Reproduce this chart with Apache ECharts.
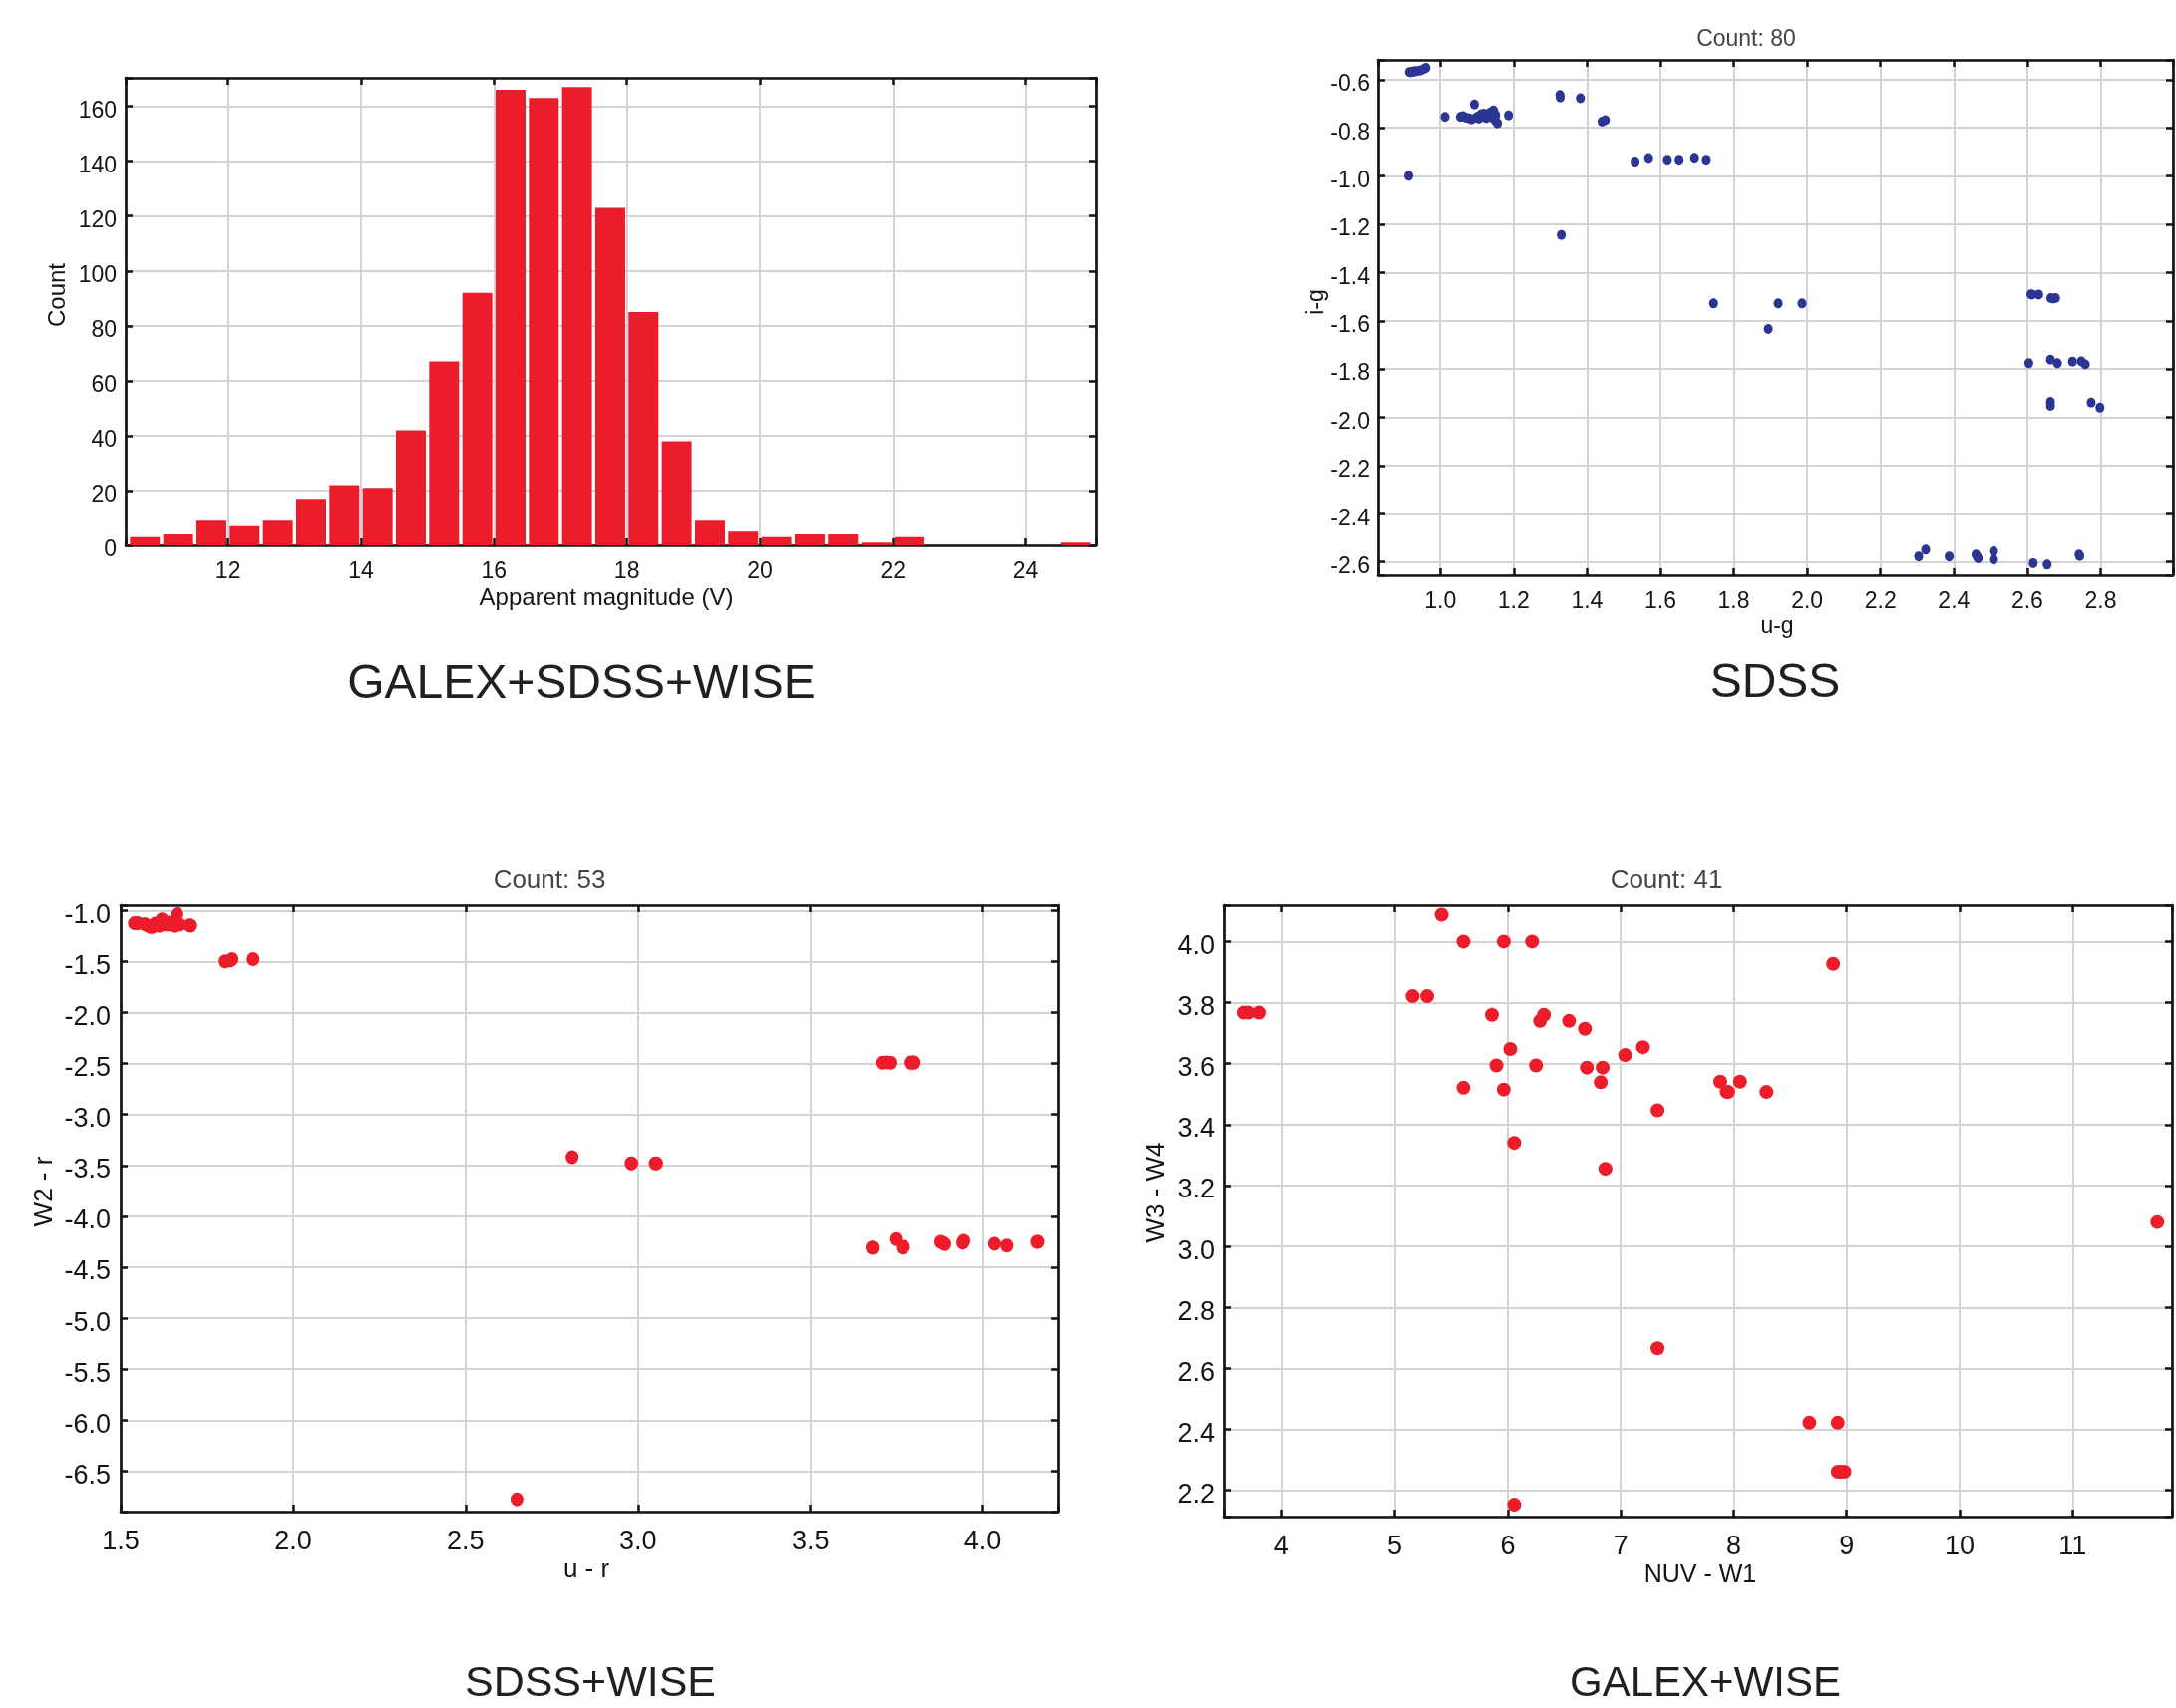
<!DOCTYPE html>
<html>
<head>
<meta charset="utf-8">
<title>Colour diagrams</title>
<script src="https://cdn.jsdelivr.net/npm/echarts@6/dist/echarts.min.js"></script>
<style>
html, body { margin: 0; padding: 0; background: #fff; }
#chart { width: 2182px; height: 1713px; }
</style>
</head>
<body>
<div id="chart"></div>
<script>
// --- histogram, apparent magnitude (V), 0.5 mag bins ---
var magBins = [10.75, 11.25, 11.75, 12.25, 12.75, 13.25, 13.75, 14.25, 14.75, 15.25,
               15.75, 16.25, 16.75, 17.25, 17.75, 18.25, 18.75, 19.25, 19.75, 20.25,
               20.75, 21.25, 21.75, 22.25, 22.75, 23.25, 23.75, 24.25, 24.75];
var magCounts = [3, 4, 9, 7, 9, 17, 22, 21, 42, 67,
                 92, 166, 163, 167, 123, 85, 38, 9, 5, 3,
                 4, 4, 1, 3, 0, 0, 0, 0, 1];

// --- SDSS: u-g vs i-g ---
var sdssUG = [0.916, 0.925, 0.935, 0.945, 0.955, 0.961, 0.920, 0.930,
              0.914,
              1.013, 1.055, 1.062, 1.070, 1.079, 1.085, 1.093, 1.098, 1.102, 1.105, 1.111, 1.115, 1.118,
              1.120, 1.125, 1.129, 1.132, 1.135, 1.138, 1.140, 1.143, 1.145, 1.147, 1.150, 1.151, 1.156, 1.186,
              1.326, 1.327, 1.382, 1.441, 1.450,
              1.531, 1.568, 1.619, 1.651, 1.693, 1.725,
              1.330,
              1.745, 1.921, 1.986, 1.894,
              2.613, 2.631, 2.664, 2.677, 2.670, 2.610,
              2.604, 2.663, 2.682, 2.723, 2.747, 2.758,
              2.663, 2.663, 2.774, 2.798,
              2.304, 2.323, 2.387, 2.460, 2.466, 2.463, 2.508, 2.508, 2.616, 2.654, 2.741, 2.743];
var sdssIG = [-0.569, -0.567, -0.565, -0.562, -0.556, -0.551, -0.570, -0.566,
              -0.999,
              -0.755, -0.755, -0.752, -0.758, -0.761, -0.765, -0.703, -0.758, -0.754, -0.762, -0.744, -0.748, -0.741,
              -0.751, -0.760, -0.744, -0.752, -0.737, -0.746, -0.758, -0.744, -0.728, -0.737, -0.770, -0.748, -0.781, -0.748,
              -0.664, -0.674, -0.677, -0.774, -0.768,
              -0.940, -0.925, -0.932, -0.932, -0.924, -0.932,
              -1.244,
              -1.528, -1.528, -1.528, -1.634,
              -1.491, -1.491, -1.506, -1.506, -1.508, -1.490,
              -1.776, -1.761, -1.776, -1.769, -1.768, -1.781,
              -1.936, -1.952, -1.939, -1.960,
              -2.577, -2.549, -2.577, -2.569, -2.585, -2.577, -2.556, -2.590, -2.605, -2.611, -2.569, -2.575];

// --- SDSS+WISE: u - r vs W2 - r ---
var swUR = [1.540, 1.550, 1.570, 1.580, 1.585, 1.592, 1.600, 1.604, 1.612, 1.620, 1.620, 1.628, 1.635, 1.640,
            1.647, 1.655, 1.660, 1.663, 1.665, 1.671, 1.700, 1.703,
            1.803, 1.818, 1.823, 1.884,
            2.809, 2.982, 2.980, 3.054, 3.050,
            2.649,
            3.707, 3.720, 3.731, 3.789, 3.795, 3.800, 3.801,
            3.679, 3.680, 3.747, 3.767, 3.770, 3.878, 3.885, 3.890, 3.942, 3.945, 4.034, 4.070, 4.157, 4.160];
var swW2R = [-1.125, -1.125, -1.135, -1.148, -1.160, -1.162, -1.130, -1.139, -1.150, -1.088, -1.140, -1.125, -1.139, -1.120,
             -1.139, -1.150, -1.140, -1.037, -1.120, -1.139, -1.145, -1.148,
             -1.499, -1.490, -1.476, -1.476,
             -3.419, -3.479, -3.480, -3.479, -3.480,
             -6.776,
             -2.491, -2.490, -2.491, -2.491, -2.490, -2.490, -2.491,
             -4.306, -4.310, -4.223, -4.306, -4.300, -4.250, -4.260, -4.273, -4.259, -4.240, -4.269, -4.287, -4.250, -4.250];

// --- GALEX+WISE: NUV - W1 vs W3 - W4 ---
var gwNUV = [3.660, 3.700, 3.795,
             5.414, 5.607, 5.964, 6.215, 8.880,
             5.157, 5.286,
             5.859, 6.285, 6.320, 6.542, 6.683,
             6.022, 5.899, 6.250, 5.607, 5.964,
             6.700, 6.840, 6.823, 7.039, 7.197,
             7.881, 7.939, 7.951, 8.056, 8.290,
             7.326, 6.057, 6.864, 11.750, 7.326,
             8.670, 8.921, 8.921, 8.980, 8.950, 6.057];
var gwW3W4 = [3.767, 3.767, 3.767,
              4.088, 4.000, 4.000, 4.000, 3.927,
              3.821, 3.821,
              3.760, 3.740, 3.760, 3.740, 3.714,
              3.648, 3.594, 3.594, 3.521, 3.515,
              3.587, 3.587, 3.539, 3.628, 3.654,
              3.541, 3.507, 3.507, 3.541, 3.507,
              3.447, 3.340, 3.255, 3.080, 2.666,
              2.422, 2.422, 2.261, 2.261, 2.261, 2.153];

var FONT = '"Liberation Sans", Arial, Helvetica, sans-serif';
var RED = '#ec1c2b';
var BLUE = '#2b3592';
var INK = '#141414';

function zip(a, b) {
  return a.map(function (v, i) { return [v, b[i]]; });
}

// label only the multiples of step (ECharts also puts ticks on min/max)
function stepLabel(step, dec) {
  return function (v) {
    var k = v / step;
    if (Math.abs(k - Math.round(k)) > 1e-6) return '';
    return dec ? v.toFixed(dec) : String(Math.round(v));
  };
}

function axis(dim, g, a, main) {
  var ax = {
    type: 'value',
    gridIndex: g,
    position: dim === 'x' ? (main ? 'bottom' : 'top') : (main ? 'left' : 'right'),
    min: a.min,
    max: a.max,
    axisLine: { show: true, onZero: false, lineStyle: { color: INK, width: 2.7 } },
    axisTick: { show: true, inside: true, length: 7, lineStyle: { color: INK, width: 2.5 } },
    axisLabel: {
      show: main,
      formatter: stepLabel(a.step, a.dec),
      fontFamily: FONT,
      fontSize: a.font,
      color: INK,
      margin: a.margin
    },
    splitLine: { show: main, lineStyle: { color: '#d3d3d3', width: 2 } }
  };
  // reference labels on the y axes sit a little below their grid lines
  if (dim === 'y') {
    ax.axisLabel.verticalAlign = 'top';
    ax.axisLabel.lineHeight = 10;
  }
  if (a.interval) ax.interval = a.interval; else ax.splitNumber = a.split;
  return ax;
}

var panels = [
  { grid: { left: 126, top: 78, width: 973, height: 469 },
    x: { min: 10.46, max: 25.056, split: 7, step: 2, dec: 0, font: 23, margin: 15 },
    y: { min: 0, max: 170.4, interval: 20, step: 20, dec: 0, font: 23, margin: 9 } },
  { grid: { left: 1382, top: 60, width: 798, height: 517 },
    x: { min: 0.831, max: 2.997, split: 11, step: 0.2, dec: 1, font: 23, margin: 15 },
    y: { min: -2.655, max: -0.518, split: 11, step: 0.2, dec: 1, font: 23, margin: 8 } },
  { grid: { left: 121, top: 908, width: 940, height: 608 },
    x: { min: 1.5, max: 4.218, interval: 0.5, step: 0.5, dec: 1, font: 27, margin: 17 },
    y: { min: -6.897, max: -0.948, split: 12, step: 0.5, dec: 1, font: 27, margin: 10 } },
  { grid: { left: 1227, top: 908, width: 951, height: 613 },
    x: { min: 3.485, max: 11.88, split: 8, step: 1, dec: 0, font: 27, margin: 17 },
    y: { min: 2.114, max: 4.119, split: 10, step: 0.2, dec: 1, font: 27, margin: 9 } }
];

var grids = [], xAxes = [], yAxes = [];
panels.forEach(function (p, g) {
  grids.push(p.grid);
  xAxes.push(axis('x', g, p.x, true), axis('x', g, p.x, false));
  yAxes.push(axis('y', g, p.y, true), axis('y', g, p.y, false));
});

function label(text, x, y, size, color, rotate) {
  return {
    type: 'text', x: x, y: y, rotation: rotate ? Math.PI / 2 : 0,
    style: { text: text, fill: color || INK, fontSize: size, fontFamily: FONT,
             align: 'center', verticalAlign: 'middle' }
  };
}

var option = {
  animation: false,
  backgroundColor: '#fff',
  grid: grids,
  xAxis: xAxes,
  yAxis: yAxes,
  series: [
    { type: 'bar', xAxisIndex: 0, yAxisIndex: 0, barWidth: 30,
      itemStyle: { color: RED }, data: zip(magBins, magCounts) },
    { type: 'scatter', xAxisIndex: 2, yAxisIndex: 2, symbolSize: [9, 10],
      itemStyle: { color: BLUE, opacity: 1 }, data: zip(sdssUG, sdssIG) },
    { type: 'scatter', xAxisIndex: 4, yAxisIndex: 4, symbolSize: [13, 14],
      itemStyle: { color: RED, opacity: 1 }, data: zip(swUR, swW2R) },
    { type: 'scatter', xAxisIndex: 6, yAxisIndex: 6, symbolSize: [14, 14],
      itemStyle: { color: RED, opacity: 1 }, data: zip(gwNUV, gwW3W4) }
  ],
  graphic: [
    label('Count', 58, 296, 24, INK, true),
    label('Apparent magnitude (V)', 608, 600, 24),
    label('GALEX+SDSS+WISE', 583, 687, 48, '#231f20'),

    label('Count: 80', 1751, 40, 23, '#444'),
    label('i-g', 1321, 303, 23, INK, true),
    label('u-g', 1782, 629, 23),
    label('SDSS', 1780, 686, 48, '#231f20'),

    label('Count: 53', 551, 884, 26, '#444'),
    label('W2 - r', 45, 1195, 26, INK, true),
    label('u - r', 588, 1575, 26),
    label('SDSS+WISE', 592, 1689, 43, '#231f20'),

    label('Count: 41', 1671, 884, 26, '#444'),
    label('W3 - W4', 1160, 1196, 26, INK, true),
    label('NUV - W1', 1705, 1580, 25),
    label('GALEX+WISE', 1710, 1689, 42, '#231f20')
  ]
};

var chart = echarts.init(document.getElementById('chart'));
chart.setOption(option);
</script>
</body>
</html>
